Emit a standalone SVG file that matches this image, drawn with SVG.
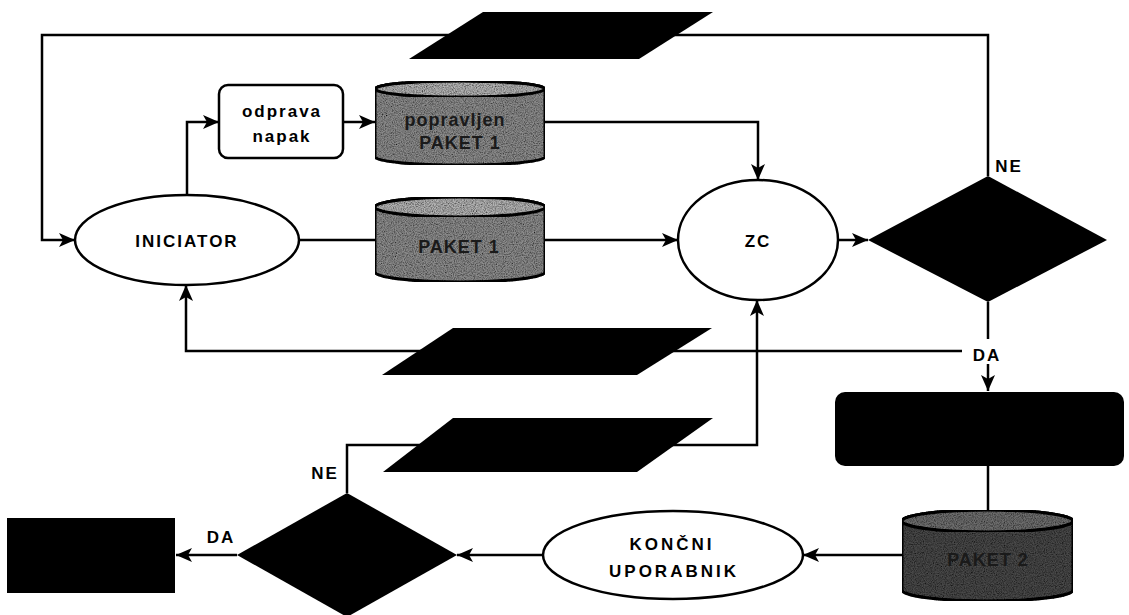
<svg xmlns="http://www.w3.org/2000/svg" width="1129" height="615" viewBox="0 0 1129 615">
<defs>
<style>
.ln{fill:none;stroke:#000;stroke-width:2.5}
.arr{marker-end:url(#ah)}
.shape{fill:#fff;stroke:#000;stroke-width:2.5}
.blk{fill:#000;stroke:none}
.txt{font-family:"Liberation Sans",Arial,sans-serif;font-weight:bold;fill:#000;text-anchor:middle}
.cyl{stroke:#000;stroke-width:3;filter:url(#grain)}
.cyltxt{font-family:"Liberation Sans",Arial,sans-serif;font-weight:bold;fill:#1a1a1a;text-anchor:middle;font-size:18px;letter-spacing:1px}
</style>
<marker id="ah" markerUnits="userSpaceOnUse" markerWidth="18" markerHeight="16" refX="16" refY="7" orient="auto">
<path d="M0,0 L16,7 L0,14 L4,7 z" fill="#000"/>
</marker>
<filter id="grain" x="0" y="0" width="1" height="1">
<feTurbulence type="fractalNoise" baseFrequency="0.9" numOctaves="2" seed="3" result="n"/>
<feColorMatrix in="n" type="matrix" values="0 0 0 0 0  0 0 0 0 0  0 0 0 0 0  0 0 0 -1.6 1.1" result="dots"/>
<feComposite in="dots" in2="SourceGraphic" operator="in" result="d2"/>
<feMerge><feMergeNode in="SourceGraphic"/><feMergeNode in="d2"/></feMerge>
</filter>
</defs>
<rect width="1129" height="615" fill="#fff"/>

<g id="connectors">
<path class="ln arr" d="M988,176 L988,35 L42,35 L42,240 L75,240"/>
<path class="ln arr" d="M187,195 L187,122 L219,122"/>
<path class="ln arr" d="M343,122 L375,122"/>
<path class="ln arr" d="M545,122 L758,122 L758,180"/>
<path class="ln" d="M300,240 L375,240"/>
<path class="ln arr" d="M545,240 L678,240"/>
<path class="ln arr" d="M838,240 L868,240"/>
<path class="ln" d="M988,302 L988,339"/>
<path class="ln arr" d="M988,364 L988,391"/>
<path class="ln arr" d="M962,351 L186,351 L186,285"/>
<path class="ln" d="M988,466 L988,510"/>
<path class="ln arr" d="M902,555 L803,555"/>
<path class="ln arr" d="M543,555 L457,555"/>
<path class="ln arr" d="M237,555 L176,555"/>
<path class="ln arr" d="M347,493 L347,445 L757,445 L757,300"/>
</g>

<g id="io-top"><polygon class="blk" points="483,12 713,12 639,59 409,59"/></g>
<g id="io-mid"><polygon class="blk" points="453,328 712,328 637,375 382,375"/></g>
<g id="io-low"><polygon class="blk" points="453,418 713,418 637,472 383,472"/></g>

<g id="iniciator">
<ellipse class="shape" cx="187" cy="240" rx="112" ry="45"/>
<text class="txt" x="187" y="247" font-size="17" letter-spacing="2">INICIATOR</text>
</g>

<g id="odprava">
<rect class="shape" x="219" y="85" width="124" height="73" rx="9"/>
<text class="txt" x="282" y="117" font-size="17" letter-spacing="2">odprava</text>
<text class="txt" x="282" y="142" font-size="17" letter-spacing="2">napak</text>
</g>

<g id="paket1-popravljen">
<path class="cyl" fill="#8c8c8c" d="M375,89 L375,157 A85,8 0 0 0 545,157 L545,89 A85,8 0 0 0 375,89 z"/>
<ellipse class="cyl" fill="#b4b4b4" cx="460" cy="89" rx="85" ry="8"/>
<text class="cyltxt" x="455" y="126">popravljen</text>
<text class="cyltxt" x="460" y="149">PAKET 1</text>
</g>

<g id="paket1">
<path class="cyl" fill="#8c8c8c" d="M375,207 L375,272 A85,10 0 0 0 545,272 L545,207 A85,10 0 0 0 375,207 z"/>
<ellipse class="cyl" fill="#b4b4b4" cx="460" cy="207" rx="85" ry="10"/>
<text class="cyltxt" x="459" y="253">PAKET 1</text>
</g>

<g id="zc">
<ellipse class="shape" cx="758" cy="240" rx="80" ry="60"/>
<text class="txt" x="758" y="247" font-size="17" letter-spacing="2">ZC</text>
</g>

<g id="decision1">
<polygon class="blk" points="868,240 988,176 1107,240 988,302"/>
<text class="txt" x="1009" y="172" font-size="17" letter-spacing="2">NE</text>
<text class="txt" x="987" y="361" font-size="17" letter-spacing="2">DA</text>
</g>

<g id="process-right"><rect class="blk" x="835" y="392" width="289" height="74" rx="10"/></g>

<g id="paket2">
<path class="cyl" fill="#4a4a4a" d="M902,521 L902,590 A85.5,11 0 0 0 1073,590 L1073,521 A85.5,11 0 0 0 902,521 z"/>
<ellipse class="cyl" fill="#6e6e6e" cx="987.5" cy="521" rx="85.5" ry="11"/>
<text class="cyltxt" x="988" y="566" fill="#111">PAKET 2</text>
</g>

<g id="koncni">
<ellipse class="shape" cx="673" cy="555" rx="130" ry="44"/>
<text class="txt" x="672" y="550" font-size="17" letter-spacing="3">KONČNI</text>
<text class="txt" x="674" y="577" font-size="17" letter-spacing="3">UPORABNIK</text>
</g>

<g id="decision2">
<polygon class="blk" points="237,555 347,493 457,555 347,617"/>
<text class="txt" x="325" y="479" font-size="17" letter-spacing="2">NE</text>
<text class="txt" x="221" y="543" font-size="17" letter-spacing="2">DA</text>
</g>

<g id="terminal-left"><rect class="blk" x="7" y="518" width="168" height="75"/></g>
</svg>
